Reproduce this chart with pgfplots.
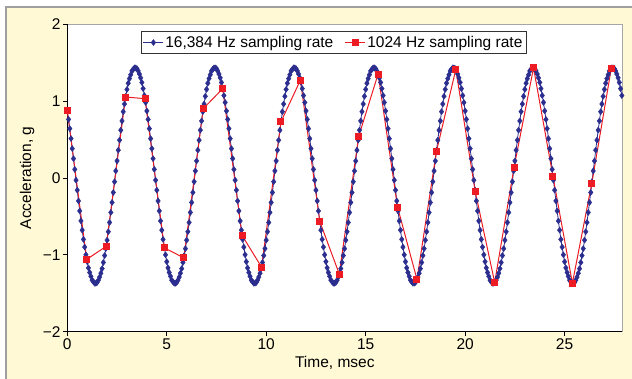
\documentclass[border=0pt]{standalone}
\usepackage{pgfplots}
\pgfplotsset{compat=1.18}
\usepackage{fontspec}
\setmainfont{Liberation Sans}
\definecolor{cream}{RGB}{255,249,214}
\definecolor{dblue}{RGB}{43,46,143}
\definecolor{dred}{RGB}{237,28,36}
\newcommand\fs{\fontsize{15.5bp}{18bp}\selectfont}
\begin{document}
\begin{tikzpicture}
\useasboundingbox (-67.3bp,-47.3bp) rectangle (564.7bp,331.7bp);
\fill[cream] (-61.3bp,324.7bp) rectangle (600bp,-100bp);
\draw[gray!75, line width=1.3bp] (-61.3bp,-100bp) -- (-61.3bp,324.7bp) -- (600bp,324.7bp);
\begin{axis}[
  at={(0,0)}, anchor=south west,
  scale only axis, width=555bp, height=307.7bp,
  xmin=0, xmax=27.9, ymin=-2, ymax=2,
  xtick={0,5,10,15,20,25}, ytick={-2,-1,0,1,2},
  yticklabels={−2,−1,0,1,2},
  xtick pos=left, ytick pos=left, tick align=outside,
  major tick length=4bp,
  tick style={black, line width=0.6bp},
  axis line style={gray!70, line width=0.6bp},
  axis background/.style={fill=white},
  clip=false,
  tick label style={font=\fs, inner sep=2.5bp},
  /pgf/number format/assume math mode=true,
  xlabel={Time, msec},
  ylabel={Acceleration, g},
  label style={font=\fs},
  xlabel style={at={(axis description cs:0.482,-0.1)}, anchor=center},
  ylabel style={at={(axis description cs:-0.0725,0.5)}, anchor=center, rotate=0},
  legend style={at={(axis description cs:0.1323,0.976)}, anchor=north west,
    draw=black!80, line width=0.6bp, fill=white, font=\fs,
    inner xsep=2bp, inner ysep=3bp, nodes={inner sep=1.5bp},
    /tikz/every even column/.append style={column sep=10bp}},
  legend columns=2,
  legend cell align=left,
  legend image code/.code={\draw[mark repeat=2,mark phase=2] plot coordinates {(0bp,0bp) (10bp,0bp) (20bp,0bp)};},
]
\draw[black, line width=0.9bp] (rel axis cs:0,1) -- (rel axis cs:0,0) -- (rel axis cs:1,0);
\addplot[dblue, line width=0.8bp, mark=diamond*, mark size=3bp, mark options={solid, fill=dblue, draw=dblue, line width=0.4bp}] coordinates {
(0,0.87)(0.0625,0.76)(0.125,0.64)(0.1875,0.51)(0.25,0.38)(0.3125,0.25)(0.375,0.11)(0.4375,-0.03)(0.5,-0.16)(0.5625,-0.30)(0.625,-0.43)(0.6875,-0.56)(0.75,-0.68)(0.8125,-0.80)(0.875,-0.90)(0.9375,-1.00)(1,-1.09)(1.0625,-1.17)(1.125,-1.23)(1.1875,-1.28)(1.25,-1.33)(1.3125,-1.35)(1.375,-1.37)(1.4375,-1.37)(1.5,-1.36)(1.5625,-1.33)(1.625,-1.29)(1.6875,-1.24)(1.75,-1.18)(1.8125,-1.10)(1.875,-1.01)(1.9375,-0.92)(2,-0.81)(2.0625,-0.70)(2.125,-0.58)(2.1875,-0.45)(2.25,-0.32)(2.3125,-0.19)(2.375,-0.05)(2.4375,0.09)(2.5,0.22)(2.5625,0.36)(2.625,0.49)(2.6875,0.62)(2.75,0.74)(2.8125,0.86)(2.875,0.96)(2.9375,1.06)(3,1.15)(3.0625,1.23)(3.125,1.29)(3.1875,1.34)(3.25,1.39)(3.3125,1.41)(3.375,1.43)(3.4375,1.43)(3.5,1.42)(3.5625,1.39)(3.625,1.35)(3.6875,1.30)(3.75,1.24)(3.8125,1.16)(3.875,1.07)(3.9375,0.98)
(4,0.87)(4.0625,0.76)(4.125,0.64)(4.1875,0.51)(4.25,0.38)(4.3125,0.25)(4.375,0.11)(4.4375,-0.03)(4.5,-0.16)(4.5625,-0.30)(4.625,-0.43)(4.6875,-0.56)(4.75,-0.68)(4.8125,-0.80)(4.875,-0.90)(4.9375,-1.00)(5,-1.09)(5.0625,-1.17)(5.125,-1.23)(5.1875,-1.28)(5.25,-1.33)(5.3125,-1.35)(5.375,-1.37)(5.4375,-1.37)(5.5,-1.36)(5.5625,-1.33)(5.625,-1.29)(5.6875,-1.24)(5.75,-1.18)(5.8125,-1.10)(5.875,-1.01)(5.9375,-0.92)(6,-0.81)(6.0625,-0.70)(6.125,-0.58)(6.1875,-0.45)(6.25,-0.32)(6.3125,-0.19)(6.375,-0.05)(6.4375,0.09)(6.5,0.22)(6.5625,0.36)(6.625,0.49)(6.6875,0.62)(6.75,0.74)(6.8125,0.86)(6.875,0.96)(6.9375,1.06)(7,1.15)(7.0625,1.23)(7.125,1.29)(7.1875,1.34)(7.25,1.39)(7.3125,1.41)(7.375,1.43)(7.4375,1.43)(7.5,1.42)(7.5625,1.39)(7.625,1.35)(7.6875,1.30)(7.75,1.24)(7.8125,1.16)(7.875,1.07)(7.9375,0.98)
(8,0.87)(8.0625,0.76)(8.125,0.64)(8.1875,0.51)(8.25,0.38)(8.3125,0.25)(8.375,0.11)(8.4375,-0.03)(8.5,-0.16)(8.5625,-0.30)(8.625,-0.43)(8.6875,-0.56)(8.75,-0.68)(8.8125,-0.80)(8.875,-0.90)(8.9375,-1.00)(9,-1.09)(9.0625,-1.17)(9.125,-1.23)(9.1875,-1.28)(9.25,-1.33)(9.3125,-1.35)(9.375,-1.37)(9.4375,-1.37)(9.5,-1.36)(9.5625,-1.33)(9.625,-1.29)(9.6875,-1.24)(9.75,-1.18)(9.8125,-1.10)(9.875,-1.01)(9.9375,-0.92)(10,-0.81)(10.0625,-0.70)(10.125,-0.58)(10.1875,-0.45)(10.25,-0.32)(10.3125,-0.19)(10.375,-0.05)(10.4375,0.09)(10.5,0.22)(10.5625,0.36)(10.625,0.49)(10.6875,0.62)(10.75,0.74)(10.8125,0.86)(10.875,0.96)(10.9375,1.06)(11,1.15)(11.0625,1.23)(11.125,1.29)(11.1875,1.34)(11.25,1.39)(11.3125,1.41)(11.375,1.43)(11.4375,1.43)(11.5,1.42)(11.5625,1.39)(11.625,1.35)(11.6875,1.30)(11.75,1.24)(11.8125,1.16)(11.875,1.07)(11.9375,0.98)
(12,0.87)(12.0625,0.76)(12.125,0.64)(12.1875,0.51)(12.25,0.38)(12.3125,0.25)(12.375,0.11)(12.4375,-0.03)(12.5,-0.16)(12.5625,-0.30)(12.625,-0.43)(12.6875,-0.56)(12.75,-0.68)(12.8125,-0.80)(12.875,-0.90)(12.9375,-1.00)(13,-1.09)(13.0625,-1.17)(13.125,-1.23)(13.1875,-1.28)(13.25,-1.33)(13.3125,-1.35)(13.375,-1.37)(13.4375,-1.37)(13.5,-1.36)(13.5625,-1.33)(13.625,-1.29)(13.6875,-1.24)(13.75,-1.18)(13.8125,-1.10)(13.875,-1.01)(13.9375,-0.92)(14,-0.81)(14.0625,-0.70)(14.125,-0.58)(14.1875,-0.45)(14.25,-0.32)(14.3125,-0.19)(14.375,-0.05)(14.4375,0.09)(14.5,0.22)(14.5625,0.36)(14.625,0.49)(14.6875,0.62)(14.75,0.74)(14.8125,0.86)(14.875,0.96)(14.9375,1.06)(15,1.15)(15.0625,1.23)(15.125,1.29)(15.1875,1.34)(15.25,1.39)(15.3125,1.41)(15.375,1.43)(15.4375,1.43)(15.5,1.42)(15.5625,1.39)(15.625,1.35)(15.6875,1.30)(15.75,1.24)(15.8125,1.16)(15.875,1.07)(15.9375,0.98)
(16,0.87)(16.0625,0.76)(16.125,0.64)(16.1875,0.51)(16.25,0.38)(16.3125,0.25)(16.375,0.11)(16.4375,-0.03)(16.5,-0.16)(16.5625,-0.30)(16.625,-0.43)(16.6875,-0.56)(16.75,-0.68)(16.8125,-0.80)(16.875,-0.90)(16.9375,-1.00)(17,-1.09)(17.0625,-1.17)(17.125,-1.23)(17.1875,-1.28)(17.25,-1.33)(17.3125,-1.35)(17.375,-1.37)(17.4375,-1.37)(17.5,-1.36)(17.5625,-1.33)(17.625,-1.29)(17.6875,-1.24)(17.75,-1.18)(17.8125,-1.10)(17.875,-1.01)(17.9375,-0.92)(18,-0.81)(18.0625,-0.70)(18.125,-0.58)(18.1875,-0.45)(18.25,-0.32)(18.3125,-0.19)(18.375,-0.05)(18.4375,0.09)(18.5,0.22)(18.5625,0.36)(18.625,0.49)(18.6875,0.62)(18.75,0.74)(18.8125,0.86)(18.875,0.96)(18.9375,1.06)(19,1.15)(19.0625,1.23)(19.125,1.29)(19.1875,1.34)(19.25,1.39)(19.3125,1.41)(19.375,1.43)(19.4375,1.43)(19.5,1.42)(19.5625,1.39)(19.625,1.35)(19.6875,1.30)(19.75,1.24)(19.8125,1.16)(19.875,1.07)(19.9375,0.98)
(20,0.87)(20.0625,0.76)(20.125,0.64)(20.1875,0.51)(20.25,0.38)(20.3125,0.25)(20.375,0.11)(20.4375,-0.03)(20.5,-0.16)(20.5625,-0.30)(20.625,-0.43)(20.6875,-0.56)(20.75,-0.68)(20.8125,-0.80)(20.875,-0.90)(20.9375,-1.00)(21,-1.09)(21.0625,-1.17)(21.125,-1.23)(21.1875,-1.28)(21.25,-1.33)(21.3125,-1.35)(21.375,-1.37)(21.4375,-1.37)(21.5,-1.36)(21.5625,-1.33)(21.625,-1.29)(21.6875,-1.24)(21.75,-1.18)(21.8125,-1.10)(21.875,-1.01)(21.9375,-0.92)(22,-0.81)(22.0625,-0.70)(22.125,-0.58)(22.1875,-0.45)(22.25,-0.32)(22.3125,-0.19)(22.375,-0.05)(22.4375,0.09)(22.5,0.22)(22.5625,0.36)(22.625,0.49)(22.6875,0.62)(22.75,0.74)(22.8125,0.86)(22.875,0.96)(22.9375,1.06)(23,1.15)(23.0625,1.23)(23.125,1.29)(23.1875,1.34)(23.25,1.39)(23.3125,1.41)(23.375,1.43)(23.4375,1.43)(23.5,1.42)(23.5625,1.39)(23.625,1.35)(23.6875,1.30)(23.75,1.24)(23.8125,1.16)(23.875,1.07)(23.9375,0.98)
(24,0.87)(24.0625,0.76)(24.125,0.64)(24.1875,0.51)(24.25,0.38)(24.3125,0.25)(24.375,0.11)(24.4375,-0.03)(24.5,-0.16)(24.5625,-0.30)(24.625,-0.43)(24.6875,-0.56)(24.75,-0.68)(24.8125,-0.80)(24.875,-0.90)(24.9375,-1.00)(25,-1.09)(25.0625,-1.17)(25.125,-1.23)(25.1875,-1.28)(25.25,-1.33)(25.3125,-1.35)(25.375,-1.37)(25.4375,-1.37)(25.5,-1.36)(25.5625,-1.33)(25.625,-1.29)(25.6875,-1.24)(25.75,-1.18)(25.8125,-1.10)(25.875,-1.01)(25.9375,-0.92)(26,-0.81)(26.0625,-0.70)(26.125,-0.58)(26.1875,-0.45)(26.25,-0.32)(26.3125,-0.19)(26.375,-0.05)(26.4375,0.09)(26.5,0.22)(26.5625,0.36)(26.625,0.49)(26.6875,0.62)(26.75,0.74)(26.8125,0.86)(26.875,0.96)(26.9375,1.06)(27,1.15)(27.0625,1.23)(27.125,1.29)(27.1875,1.34)(27.25,1.39)(27.3125,1.41)(27.375,1.43)(27.4375,1.43)(27.5,1.42)(27.5625,1.39)(27.625,1.35)(27.6875,1.30)(27.75,1.24)(27.8125,1.16)(27.875,1.07)
};
\addlegendentry{16,384 Hz sampling rate}
\addplot[dred, line width=1bp, mark=square*, mark size=3bp, mark options={solid, fill=dred, draw=dred}] coordinates {
(0,0.87)(0.9766,-1.06)(1.9531,-0.89)(2.9297,1.05)(3.9063,1.03)(4.8828,-0.91)(5.8594,-1.04)(6.8359,0.90)(7.8125,1.16)(8.7891,-0.75)(9.7656,-1.16)(10.7422,0.73)(11.7188,1.27)(12.6953,-0.57)(13.6719,-1.25)(14.6484,0.54)(15.625,1.35)(16.6016,-0.38)(17.5781,-1.32)(18.5547,0.34)(19.5313,1.41)(20.5078,-0.18)(21.4844,-1.36)(22.4609,0.14)(23.4375,1.43)(24.4141,0.02)(25.3906,-1.37)(26.3672,-0.07)(27.3438,1.42)
};
\addlegendentry{1024 Hz sampling rate}
\end{axis}
\end{tikzpicture}
\end{document}
